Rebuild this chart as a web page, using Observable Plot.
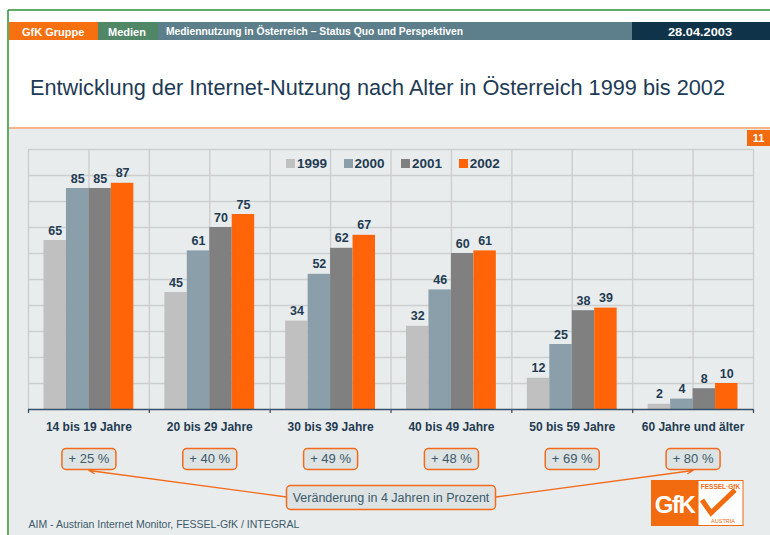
<!DOCTYPE html>
<html><head><meta charset="utf-8">
<script src="https://cdn.jsdelivr.net/npm/d3@7"></script>
<script src="https://cdn.jsdelivr.net/npm/@observablehq/plot@0.6"></script>
<style>
body{margin:0;background:#fff;}
#page{position:relative;width:770px;height:535px;overflow:hidden;font-family:"Liberation Sans",Arial,sans-serif;}
#page > *{position:absolute;left:0;top:0;}
#legend{left:286px;top:156px;}
.lg-swatches{font-family:"Liberation Sans",Arial,sans-serif !important;font-size:13.5px !important;font-weight:bold;color:#1f3b52;margin:0 !important;min-height:0 !important;}
.lg-swatch{margin-right:16.5px !important;}
.lg-swatch > svg{margin-right:2px !important;}
</style></head>
<body>
<div id="page">
<svg id="deco" width="770" height="535" font-family="Liberation Sans, Arial, sans-serif">
  <rect x="9" y="129" width="761" height="406" fill="#e9ecec"/>
  <line x1="8" y1="10" x2="770" y2="10" stroke="#2f8f35" stroke-width="1.5"/>
  <line x1="8" y1="10" x2="8" y2="535" stroke="#2f8f35" stroke-width="1.5"/>
  <rect x="9" y="22" width="89" height="18" fill="#f7700f"/>
  <rect x="98" y="22" width="60" height="18" fill="#4f8767"/>
  <rect x="158" y="22" width="474" height="18" fill="#5c7f8b"/>
  <rect x="632" y="22" width="138" height="18" fill="#0f3349"/>
  <text x="22" y="35.5" fill="#fff" font-size="11" font-weight="bold">GfK Gruppe</text>
  <text x="108" y="35.5" fill="#fff" font-size="11" font-weight="bold">Medien</text>
  <text x="166" y="34.5" fill="#fff" font-size="10" font-weight="bold" textLength="297" lengthAdjust="spacingAndGlyphs">Mediennutzung in Österreich – Status Quo und Perspektiven</text>
  <text x="668" y="35.5" fill="#fff" font-size="11.5" font-weight="bold" textLength="64" lengthAdjust="spacingAndGlyphs">28.04.2003</text>
  <text x="30" y="95" fill="#1d3a55" font-size="21.5" textLength="695" lengthAdjust="spacingAndGlyphs">Entwicklung der Internet-Nutzung nach Alter in Österreich 1999 bis 2002</text>
  <line x1="9" y1="128" x2="770" y2="128" stroke="#f59a63" stroke-width="1.5"/>
  <rect x="747" y="130" width="23" height="16" fill="#f26b0f"/>
  <text x="758.5" y="142" fill="#fff" font-size="11" font-weight="bold" text-anchor="middle">11</text>
  <rect x="651" y="480" width="47" height="46" fill="#f26b0f"/>
  <text x="674.5" y="513" fill="#fff" font-size="24" font-weight="bold" text-anchor="middle" letter-spacing="-1.5" font-family="Liberation Sans Narrow, Liberation Sans, sans-serif">GfK</text>
  <rect x="698" y="480.5" width="45" height="45" fill="#fff" stroke="#f26b0f" stroke-width="1"/>
  <text x="720.5" y="489" fill="#f26b0f" font-size="6.5" font-weight="bold" text-anchor="middle">FESSEL·GfK</text>
  <polyline points="702,500 711,513 735,490" fill="none" stroke="#f26b0f" stroke-width="5" stroke-linejoin="miter"/>
  <text x="723" y="523" fill="#f26b0f" font-size="5.5" text-anchor="middle">AUSTRIA</text>
</svg>
</div>
<script>
// ---- data ----
const groups = ["14 bis 19 Jahre", "20 bis 29 Jahre", "30 bis 39 Jahre", "40 bis 49 Jahre", "50 bis 59 Jahre", "60 Jahre und älter"];
const years = ["1999", "2000", "2001", "2002"];
const v1999 = [65, 45, 34, 32, 12, 2];
const v2000 = [85, 61, 52, 46, 25, 4];
const v2001 = [85, 70, 62, 60, 38, 8];
const v2002 = [87, 75, 67, 61, 39, 10];
const changes = ["+ 25 %", "+ 40 %", "+ 49 %", "+ 48 %", "+ 69 %", "+ 80 %"];
const noteText = "Veränderung in 4 Jahren in Prozent";
const sourceText = "AIM - Austrian Internet Monitor, FESSEL-GfK / INTEGRAL";
const yTicks = [0, 10, 20, 30, 40, 50, 60, 70, 80, 90, 100];

// ---- styles ----
const colors = ["#c0c0c0", "#8a9fa9", "#808080", "#ff6508"];
const orange = "#f26b1d";
const gridColor = "#cdcfcf";
const axisColor = "#36506a";
const darkText = "#1f3b52";
const softText = "#3b5a6b";
const boxFill = "#dde2e2";
const font = "Liberation Sans, Arial, sans-serif";

const series = [v1999, v2000, v2001, v2002];
const rows = years.flatMap((yr, k) => groups.map((g, i) => ({group: g, year: yr, value: series[k][i]})));

const W = 770, H = 406, mT = 20, mB = 126, mL = 28, mR = 17;
const n = groups.length;
const unit = (H - mT - mB) / 100;       // px per y unit
const below = px => -px / unit;          // offset below axis, in y units
const stepPx = (W - mL - mR) / n;

function roundRect(w, h, r) {
  return {draw(ctx) {
    const x0 = -w / 2, y0 = -h / 2, x1 = w / 2, y1 = h / 2;
    ctx.moveTo(x0 + r, y0);
    ctx.arcTo(x1, y0, x1, y1, r);
    ctx.arcTo(x1, y1, x0, y1, r);
    ctx.arcTo(x0, y1, x0, y0, r);
    ctx.arcTo(x0, y0, x1, y0, r);
    ctx.closePath();
  }};
}

const common = {width: W, height: H, marginTop: mT, marginBottom: mB, marginLeft: mL, marginRight: mR,
  style: {background: "transparent", overflow: "visible", fontFamily: font}};

// background grid + annotations
const calloutW = 209;
const half = (calloutW / 2) / stepPx;
const plotB = Plot.plot({
  ...common,
  x: {domain: [0, n], axis: null},
  y: {domain: [0, 100], axis: null},
  marks: [
    Plot.ruleY(yTicks.slice(1), {stroke: gridColor, strokeWidth: 1.4}),
    Plot.ruleX(d3.range(0, n + 0.5, 0.5), {y1: 0, y2: 100, stroke: gridColor, strokeWidth: 1.4}),
    Plot.ruleX(d3.range(0, n + 1), {y1: 0, y2: below(4), stroke: axisColor, strokeWidth: 1.3}),
    Plot.text(groups, {x: (d, i) => i + 0.5, y: 0, dy: 18, text: d => d, fontSize: 12, fontWeight: "bold", fill: darkText}),
    Plot.arrow([0, n - 1], {
      x1: i => n / 2 + (i === 0 ? -half : half), y1: below(87.5),
      x2: i => i + 0.5, y2: below(61),
      stroke: orange, strokeWidth: 1.3, headLength: 7, headAngle: 45
    }),
    Plot.dot(changes, {x: (d, i) => i + 0.5, y: 0, dy: 49.5, symbol: roundRect(54, 21, 4), r: 1, fill: boxFill, stroke: orange, strokeWidth: 1.5}),
    Plot.text(changes, {x: (d, i) => i + 0.5, y: 0, dy: 49.5, text: d => d, fontSize: 13, fill: softText}),
    Plot.dot([noteText], {x: n / 2, y: 0, dy: 88, symbol: roundRect(calloutW, 24, 4), r: 1, fill: boxFill, stroke: orange, strokeWidth: 1.5}),
    Plot.text([noteText], {x: n / 2, y: 0, dy: 88, text: d => d, fontSize: 12.5, fill: softText}),
    Plot.text([sourceText], {x: 0, y: 0, dy: 115, text: d => d, textAnchor: "start", fontSize: 10.5, fill: softText})
  ]
});

// bars (faceted by age group)
const plotA = Plot.plot({
  ...common,
  fx: {domain: groups, padding: 0, round: false, axis: null},
  x: {domain: years, paddingInner: 0, paddingOuter: 0.69, round: false, axis: null},
  y: {domain: [0, 100], axis: null},
  color: {domain: years, range: colors},
  marks: [
    Plot.barY(rows, {fx: "group", x: "year", y: "value", fill: "year"}),
    Plot.text(rows, {fx: "group", x: "year", y: "value", text: d => String(d.value), dy: -10, fontSize: 12.5, fontWeight: "bold", fill: darkText}),
    Plot.ruleY([0], {stroke: axisColor, strokeWidth: 1.5})
  ]
});

const legend = Plot.legend({color: {domain: years, range: colors}, legend: "swatches", swatchSize: 9, className: "lg"});
legend.id = "legend";

const page = document.getElementById("page");
plotB.style.top = "129px"; plotB.style.position = "absolute";
plotA.style.top = "129px"; plotA.style.position = "absolute";
page.appendChild(plotB);
page.appendChild(legend);
page.appendChild(plotA);
</script>
</body></html>
